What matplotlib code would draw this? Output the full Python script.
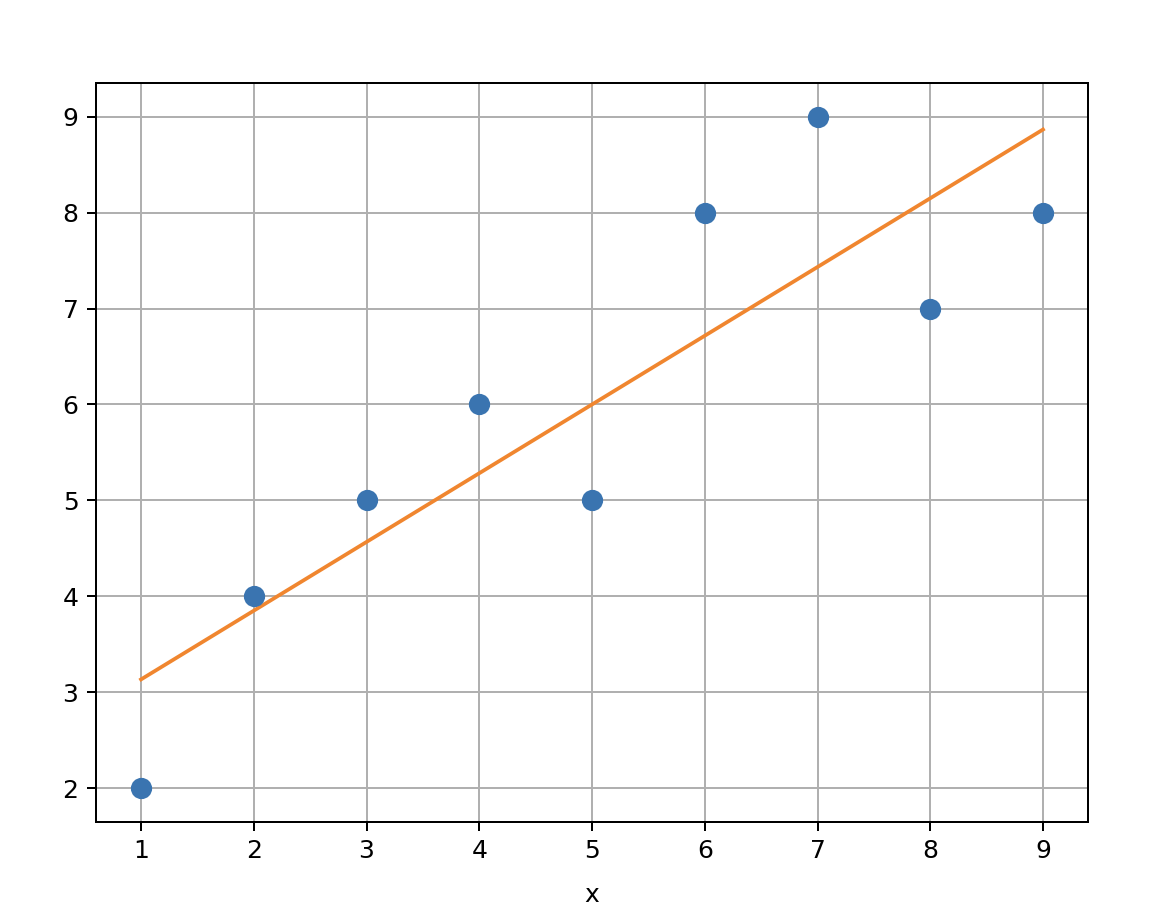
import numpy as np
import matplotlib
matplotlib.use("Agg")
import matplotlib.pyplot as plt

x = [1, 2, 3, 4, 5, 6, 7, 8, 9]
y = [2, 4, 5, 6, 5, 8, 9, 7, 8]

slope, intercept = np.polyfit(x, y, 1)
fit_x = [x[0], x[-1]]
fit_y = [slope * v + intercept for v in fit_x]

fig = plt.figure(figsize=(6.5, 914 / 180), dpi=180)
ax = fig.add_axes([0.082, 0.101, 0.848, 0.808])
ax.plot(x, y, "o", color="#3a74b0", markersize=7.5, zorder=3)
ax.plot(fit_x, fit_y, "-", color="#f0862f", linewidth=1.5, zorder=2)
ax.grid(True, color="#b0b0b0", linewidth=0.8)
ax.set_axisbelow(True)
ax.set_xlabel("x", labelpad=8)
ax.set_xticks(range(1, 10))
ax.set_yticks(range(2, 10))
fig.savefig("out.png", dpi=180)
